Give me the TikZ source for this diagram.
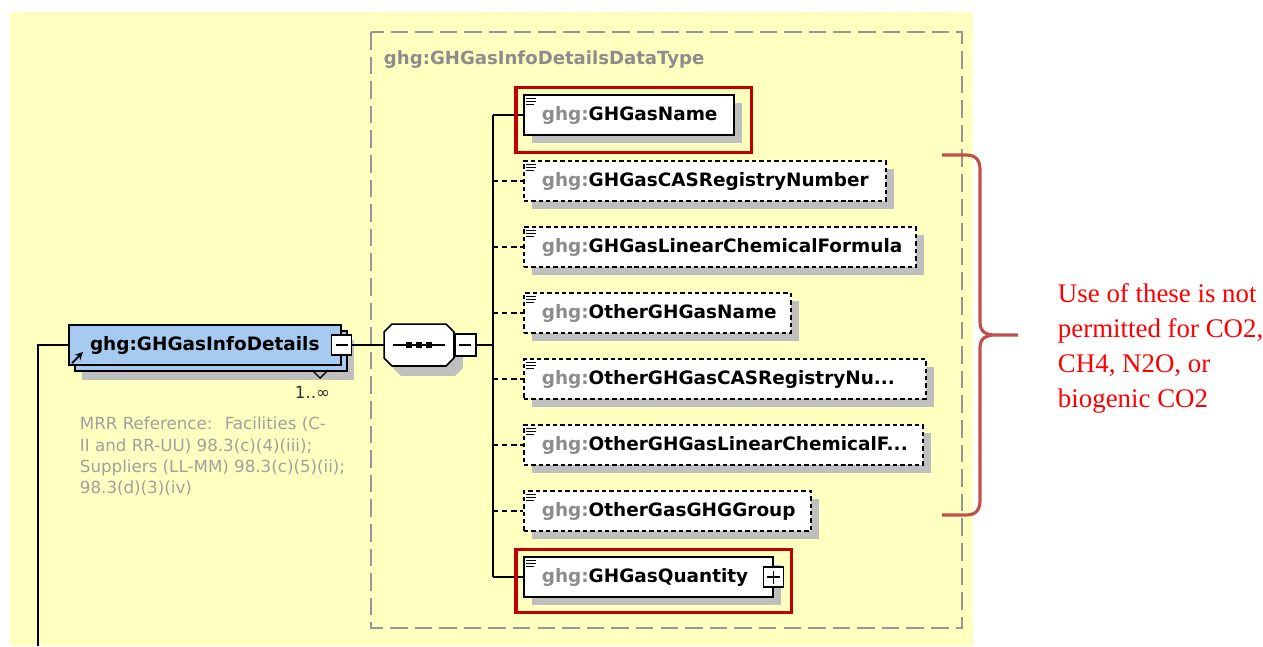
\documentclass[tikz,border=0pt]{standalone}
\usepackage{fontspec}
\setmainfont{Liberation Serif}
\newfontfamily\xsdfont{DejaVu Sans}
\usepackage{tikz}
\usetikzlibrary{calc}
\usetikzlibrary{positioning}
\usetikzlibrary{fit}
\usetikzlibrary{shadows}
\usetikzlibrary{arrows}

\definecolor{xsdyellow}{RGB}{255,255,192}
\definecolor{xsdblue}{RGB}{166,202,240}
\definecolor{xsdgray}{RGB}{140,140,140}
\definecolor{refgray}{RGB}{160,160,160}
\definecolor{framegray}{RGB}{150,150,150}
\definecolor{hired}{RGB}{192,0,0}
\definecolor{bracered}{RGB}{192,80,77}
\definecolor{notered}{RGB}{255,0,0}
\newcommand{\elided}{...}

\begin{document}
\begin{tikzpicture}[x=0.02cm,y=-0.02cm]
    \tikzstyle{every path}=[line width=1.1pt]
    \tikzstyle{boxfont}=[font=\xsdfont\bfseries\fontsize{10.5}{12}\selectfont]
    \tikzstyle{elem}=[boxfont,draw=black,line width=0.9pt,fill=white,anchor=west,minimum height=0.8cm,inner ysep=0pt,inner xsep=0.36cm,align=left,
                      drop shadow={shadow xshift=0.16cm,shadow yshift=-0.16cm,fill=black!25,opacity=1,draw=none}]
    \tikzstyle{optelem}=[elem,dash pattern=on 2.5pt off 1.7pt]
    \tikzstyle{reqline}=[]
    \tikzstyle{optline}=[dash pattern=on 3pt off 2.2pt]
    \tikzstyle{sign}=[draw=black,fill=white,line width=0.9pt,minimum size=0.4cm,inner sep=0pt]
    \tikzstyle{hilite}=[draw=hired,line width=1.8pt,inner sep=0.14cm]

    \useasboundingbox (0,0) rectangle (1263,646);
    \fill[xsdyellow] (10,12) rectangle (973,646);
    \draw[framegray,dash pattern=on 10pt off 4pt] (371,32) rectangle (962,628);
    \node[boxfont,font=\xsdfont\bfseries\fontsize{10.3}{12}\selectfont,text=xsdgray,anchor=base west,inner sep=0pt] (typename) at (383,64) {ghg:GHGasInfoDetailsDataType};

    % the element itself
    \node[boxfont,draw=black,fill=xsdblue,line width=0.9pt,anchor=west,minimum width=5.44cm,minimum height=0.8cm,inner sep=0pt,
          drop shadow={shadow xshift=0.26cm,shadow yshift=-0.3cm,fill=black!25,opacity=1,draw=none},
          copy shadow={shadow xshift=0.12cm,shadow yshift=-0.12cm}] (info) at (68,345) {ghg:GHGasInfoDetails};
    \node[sign] (infominus) at (info.east) {};
    \draw[line width=0.9pt] ([xshift=-0.12cm]infominus.center) -- ([xshift=0.12cm]infominus.center);
    \draw[line width=0.8pt] (312,370) -- (320,378) -- (328,370);
    \draw[-stealth,line width=1pt] (72,363) -- (83,352);
    \node[font=\xsdfont\fontsize{9.5}{11}\selectfont,text=black!80,anchor=base east,inner sep=0pt] (mult) at (331,398) {1..∞};
    \node[font=\xsdfont\fontsize{9.5}{12.2}\selectfont,text=refgray,align=left,anchor=north west,inner sep=0pt] (ref) at (79,416)
        {MRR Reference:~ Facilities (C-\\II and RR-UU) 98.3(c)(4)(iii);\\Suppliers (LL-MM) 98.3(c)(5)(ii);\\98.3(d)(3)(iv)};

    % sequence
    \node[minimum width=1.36cm,minimum height=0.8cm,inner sep=0pt] (seq) at (419,345) {};
    \draw[fill=white,line width=0.9pt,drop shadow={shadow xshift=0.18cm,shadow yshift=-0.2cm,fill=black!25,opacity=1,draw=none}]
        ($(seq.north west)+(8,0)$) -- ($(seq.north east)+(-8,0)$) -- ($(seq.north east)+(0,8)$) -- ($(seq.south east)+(0,-8)$)
        -- ($(seq.south east)+(-8,0)$) -- ($(seq.south west)+(8,0)$) -- ($(seq.south west)+(0,-8)$) -- ($(seq.north west)+(0,8)$) -- cycle;
    \draw[line width=0.9pt] ($(seq.west)+(9,0)$) -- ($(seq.east)+(-9,0)$);
    \foreach \k in {-1,0,1}
        \fill ($(seq.center)+(\k*10-3,-3)$) rectangle +(6,6);
    \node[sign,anchor=west,minimum width=0.42cm,minimum height=0.44cm] (seqminus) at (seq.east) {};
    \draw[line width=0.9pt] ([xshift=-0.12cm]seqminus.center) -- ([xshift=0.12cm]seqminus.center);

    % children
    \foreach \nm/\w/\st/\ln [count=\i] in {GHGasName/210/elem/reqline,
                                           GHGasCASRegistryNumber/362/optelem/optline,
                                           GHGasLinearChemicalFormula/392/optelem/optline,
                                           OtherGHGasName/267/optelem/optline,
                                           OtherGHGasCASRegistryNu\elided/402/optelem/optline,
                                           OtherGHGasLinearChemicalF\elided/399/optelem/optline,
                                           OtherGasGHGGroup/287/optelem/optline,
                                           GHGasQuantity/249/elem/reqline}{
        \coordinate (t\i) at (493,{115+66*(\i-1)});
        \node[\st,text width=(\w-36)*0.02cm] (c\i) at (523,{115+66*(\i-1)}) {\textcolor{xsdgray}{ghg:}\nm};
        \draw[\ln] (t\i) -- (c\i.west);
        \foreach \j/\l in {0/10,1/10,2/8}
            \draw[line width=0.7pt] ($(c\i.north west)+(3,4+3*\j)$) -- +(\l,0);
    }
    \node[sign] (qplus) at (c8.east) {};
    \draw[line width=0.9pt] ([xshift=-0.13cm]qplus.center) -- ([xshift=0.13cm]qplus.center);
    \draw[line width=0.9pt] ([yshift=-0.13cm]qplus.center) -- ([yshift=0.13cm]qplus.center);

    \coordinate (c1corner) at ($(c1.south east)+(10,10)$);
    \coordinate (c8corner) at ($(c8.south east)+(8,8)$);
    \node[hilite,fit=(c1.north west)(c1corner)] (hl1) {};
    \node[hilite,fit=(c8)(qplus)(c8corner)] (hl8) {};

    % connectors
    \coordinate (down) at (38,646);
    \coordinate (fork) at (493,345);
    \draw (info.west) -| (down);
    \draw (infominus.east) -- (seq.west);
    \draw (seqminus.east) -- (fork);
    \draw (t1) -- (t8);

    % note
    \draw[bracered,line width=1.8pt] (942,155) -- (966,155) .. controls (976,155) and (980,160) .. (980,170) -- (980,322)
        .. controls (980,332) and (986,335) .. (996,335) -- (1018,335) -- (996,335)
        .. controls (986,335) and (980,338) .. (980,348) -- (980,500) .. controls (980,510) and (976,515) .. (966,515) -- (942,515);
    \node[font=\fontsize{15.3}{19.8}\selectfont,text=notered,align=left,anchor=north west,inner sep=0pt] (note) at (1057,283)
        {Use of these is not\\permitted for CO2,\\CH4, N2O, or\\biogenic CO2};
\end{tikzpicture}
\end{document}
